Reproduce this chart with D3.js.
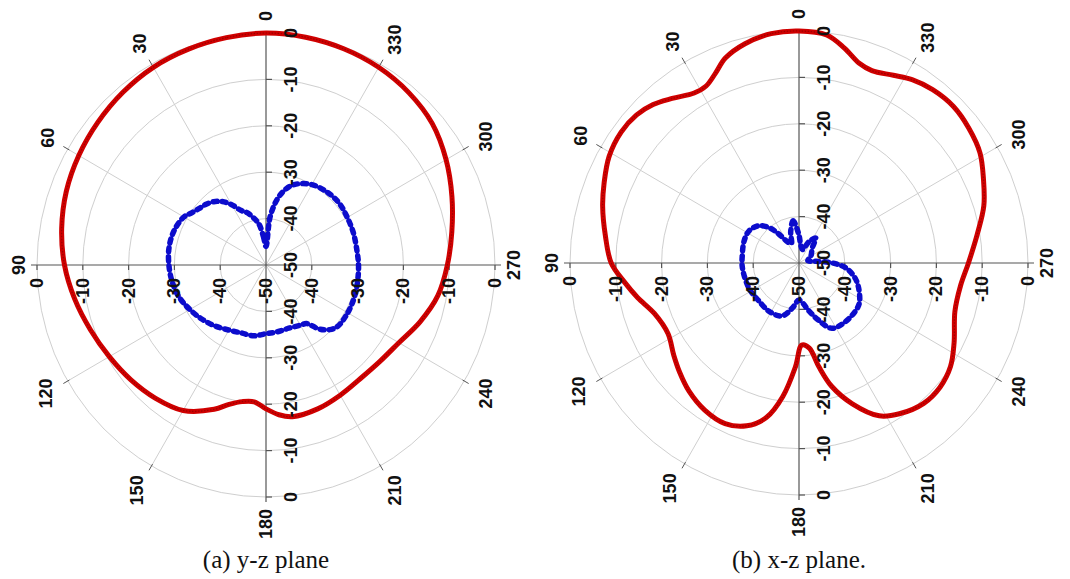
<!DOCTYPE html>
<html>
<head>
<meta charset="utf-8">
<script src="https://cdn.jsdelivr.net/npm/d3@7"></script>
<style>
  body { margin: 0; background: #fff; }
  svg { display: block; }
</style>
</head>
<body>
<svg id="chart" width="1070" height="579"></svg>
<script>
// (a) y-z plane, co-pol (red)
const yzCoAngles = [0, 10, 20, 30, 40, 50, 60, 70, 80, 90, 100, 110, 120, 130, 140, 150, 160, 165, 170, 175, 180, 185, 190, 200, 210, 220, 230, 240, 250, 260, 270, 280, 290, 300, 310, 320, 330, 340, 350];
const yzCoDb = [0, -0.25, -0.5, -0.8, -1.4, -2.1, -2.8, -3.6, -4.7, -6, -7.6, -9.2, -10.5, -11.5, -12.5, -13.8, -16.9, -18.9, -20.1, -20.4, -19, -17.6, -16.8, -17.0, -17.6, -18.0, -17.6, -16.5, -14.2, -11.9, -10.4, -8.8, -6.8, -4.6, -2.6, -1.5, -0.8, -0.4, -0.15];

// (a) y-z plane, cross-pol (blue)
const yzXAngles = [0, 5, 10, 15, 20, 25, 30, 35, 40, 45, 50, 55, 60, 70, 80, 90, 100, 110, 120, 130, 140, 150, 160, 170, 180, 190, 200, 210, 215, 220, 225, 230, 240, 250, 260, 270, 280, 290, 300, 310, 320, 330, 340, 345, 350, 355];
const yzXDb = [-46, -44, -41, -39.5, -38, -37, -35, -33.3, -32.2, -31.5, -31, -30.3, -29.3, -28.6, -28.5, -28.8, -29.2, -29.8, -30.8, -31.8, -32.8, -33.8, -34.4, -34.5, -35.2, -35.4, -35.5, -35, -34.6, -32, -30.3, -29.5, -29.4, -29.5, -29.7, -29.8, -29.9, -29.7, -29.5, -29.2, -29.4, -30, -31.5, -33, -35.5, -39.5];

// (b) x-z plane, co-pol (red)
const xzCoAngles = [0, 7, 14, 20, 24, 28, 32, 38, 43, 48, 54, 61, 68, 74, 82, 90, 96, 102, 109, 118, 126, 132, 139, 147, 155, 162, 168, 173, 178, 182, 187, 191, 195, 201, 208, 214, 222, 229, 236, 243, 253, 262, 270, 279, 287, 294, 301, 308, 315, 322, 328, 333, 339, 343, 348, 353];
const xzCoDb = [0, -0.2, -1.3, -3.0, -5.2, -6.8, -6.8, -5.0, -3.3, -2.3, -2.0, -2.6, -4.1, -5.4, -7.3, -9, -11.6, -14, -16.6, -17.6, -16.2, -14.9, -13.4, -12.2, -11.8, -13.1, -16, -21, -27.6, -32.3, -31.5, -27.2, -22.5, -17.5, -12.7, -10.8, -9.3, -9.2, -10.1, -12, -14.4, -14.4, -13, -10.6, -7.8, -5.9, -3.9, -2.9, -2.3, -2.6, -3.4, -4.6, -5.6, -5.0, -2.6, -0.5];

// (b) x-z plane, cross-pol (blue)
const xzXAngles = [0, 8, 15, 22, 30, 35, 40, 47, 57, 68, 82, 95, 117, 134, 148, 162, 172, 180, 192, 199, 207, 219, 235, 245, 255, 264, 270, 276, 285, 300, 318, 326, 335, 345, 355];
const xzXDb = [-44, -40.8, -43, -45.5, -44.5, -42.5, -40.2, -38.2, -37.1, -37.1, -37.5, -37.6, -37.8, -38, -37.7, -38, -40.3, -42, -39.4, -37, -34.2, -33.8, -34.1, -35.5, -37.3, -39.7, -42.7, -46.3, -48, -47, -45.7, -43.5, -45, -47, -46];

const dbTicks = [0, -10, -20, -30, -40, -50];
const angleTicks = d3.range(0, 360, 30);

const svg = d3.select("#chart");
const font = "Arial, 'Liberation Sans', sans-serif";

function zip(a, v) { return a.map((d, i) => ({ a: d, v: v[i] })); }

function drawPolar(o) {
    const rx = o.rx, ry = o.ry;
    const r = d3.scaleLinear().domain([-50, 0]).range([0, rx]);
    const k = ry / rx;

    const g = svg.append("g")
        .attr("transform", `translate(${o.cx},${o.cy}) scale(1,${k})`);

    // rings
    g.selectAll("circle.ring")
        .data(dbTicks.filter(d => d > -50))
        .join("circle")
        .attr("r", d => r(d))
        .attr("fill", "none")
        .attr("stroke", "#cfcfcf")
        .attr("stroke-width", 1)
        .attr("vector-effect", "non-scaling-stroke");

    // spokes
    const rad = a => a * Math.PI / 180;
    const spokes = angleTicks.filter(a => a % 90 !== 0);
    g.selectAll("line.spoke")
        .data(spokes)
        .join("line")
        .attr("x1", 0).attr("y1", 0)
        .attr("x2", a => -r(0) * Math.sin(rad(a)))
        .attr("y2", a => -r(0) * Math.cos(rad(a)))
        .attr("stroke", "#cfcfcf")
        .attr("stroke-width", 1)
        .attr("vector-effect", "non-scaling-stroke");
    g.selectAll("line.stick")
        .data(spokes)
        .join("line")
        .attr("x1", a => -(r(0) - 2) * Math.sin(rad(a)))
        .attr("y1", a => -(r(0) - 2) * Math.cos(rad(a)))
        .attr("x2", a => -(r(0) + 5) * Math.sin(rad(a)))
        .attr("y2", a => -(r(0) + 5) * Math.cos(rad(a)))
        .attr("stroke", "#555")
        .attr("stroke-width", 1)
        .attr("vector-effect", "non-scaling-stroke");

    // axes
    const ax = g.append("g").attr("stroke", "#555").attr("stroke-width", 1.2);
    ax.append("line").attr("x1", -r(0) - 6).attr("x2", r(0) + 6).attr("y1", 0).attr("y2", 0)
        .attr("vector-effect", "non-scaling-stroke");
    ax.append("line").attr("x1", 0).attr("x2", 0).attr("y1", -r(0)).attr("y2", r(0) + 5)
        .attr("vector-effect", "non-scaling-stroke");
    const tk = dbTicks.filter(d => d > -50);
    tk.forEach(d => {
        [-1, 1].forEach(s => {
            ax.append("line").attr("x1", 0).attr("x2", 6).attr("y1", s * r(d)).attr("y2", s * r(d))
                .attr("vector-effect", "non-scaling-stroke");
            ax.append("line").attr("y1", 0).attr("y2", 5).attr("x1", s * r(d)).attr("x2", s * r(d))
                .attr("vector-effect", "non-scaling-stroke");
        });
    });

    const line = d3.lineRadial()
        .angle(d => -rad(d.a))
        .radius(d => r(d.v))
        .curve(d3.curveCatmullRomClosed);

    // co-pol
    g.append("path")
        .datum(zip(o.coA, o.coV))
        .attr("d", line)
        .attr("fill", "none")
        .attr("stroke", "#d00000")
        .attr("stroke-width", 5)
        .attr("vector-effect", "non-scaling-stroke");
    g.append("path")
        .datum(zip(o.coA, o.coV))
        .attr("d", line)
        .attr("fill", "none")
        .attr("stroke", "#9a0000")
        .attr("stroke-width", 1.2)
        .attr("stroke-dasharray", "1.5 1.5")
        .attr("vector-effect", "non-scaling-stroke");

    // cross-pol
    g.append("path")
        .datum(zip(o.xA, o.xV))
        .attr("d", line)
        .attr("fill", "none")
        .attr("stroke", "#0c0ccc")
        .attr("stroke-width", 5.5)
        .attr("stroke-linecap", "round")
        .attr("stroke-dasharray", "4 5")
        .attr("vector-effect", "non-scaling-stroke");

    // labels (screen coords)
    const t = svg.append("g")
        .attr("font-family", font)
        .attr("font-weight", "bold")
        .attr("font-size", 18)
        .attr("fill", "#111");

    const py = d => o.cy + r(d) * k;

    // vertical axis, upper half
    t.selectAll(null).data(dbTicks).join("text")
        .attr("transform", d => `translate(${o.cx + 25},${o.cy - r(d) * k}) rotate(-90)`)
        .attr("text-anchor", "middle")
        .attr("dominant-baseline", "central")
        .text(d => d);
    // vertical axis, lower half
    t.selectAll(null).data(tk).join("text")
        .attr("transform", d => `translate(${o.cx + 25},${py(d)}) rotate(-90)`)
        .attr("text-anchor", "middle")
        .attr("dominant-baseline", "central")
        .text(d => d);
    // horizontal axis both sides
    const hz = tk.map(d => ({ d, s: -1 })).concat([{ d: -50, s: 1 }]).concat(tk.map(d => ({ d, s: 1 })));
    t.selectAll(null).data(hz).join("text")
        .attr("transform", d => `translate(${o.cx + d.s * r(d.d)},${o.cy + 13}) rotate(-90)`)
        .attr("text-anchor", "end")
        .attr("dominant-baseline", "central")
        .text(d => d.d);

    // angle labels
    const gap = 12, cap = 13, cw = 10;
    t.selectAll(null).data(angleTicks).join("text")
        .attr("transform", a => {
            const ux = -Math.sin(rad(a)), uy = -Math.cos(rad(a));
            const len = String(a).length * cw;
            const half = Math.abs(ux) * cap / 2 + Math.abs(uy) * len / 2;
            const rr = gap + half;
            const x = o.cx + ux * (rx + rr);
            const y = o.cy + uy * (ry + rr);
            return `translate(${x},${y}) rotate(-90)`;
        })
        .attr("text-anchor", "middle")
        .attr("dominant-baseline", "central")
        .text(a => a);

    svg.append("text")
        .attr("x", o.cx)
        .attr("y", 568)
        .attr("text-anchor", "middle")
        .attr("font-family", "'Times New Roman', 'Liberation Serif', serif")
        .attr("font-size", 25)
        .attr("fill", "#111")
        .text(o.caption);
}

drawPolar({ cx: 266, cy: 265, rx: 229, ry: 232, coA: yzCoAngles, coV: yzCoDb, xA: yzXAngles, xV: yzXDb, caption: "(a) y-z plane" });
drawPolar({ cx: 799, cy: 263, rx: 229, ry: 232, coA: xzCoAngles, coV: xzCoDb, xA: xzXAngles, xV: xzXDb, caption: "(b) x-z plane." });
</script>
</body>
</html>
